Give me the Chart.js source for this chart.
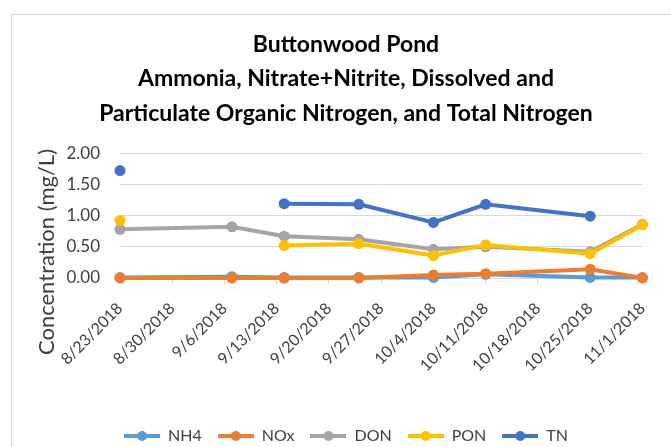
<!DOCTYPE html>
<html>
<head>
<meta charset="utf-8">
<script src="https://cdn.jsdelivr.net/npm/chart.js@4.4.0/dist/chart.umd.min.js"></script>
<style>
  html, body { margin: 0; padding: 0; background: #fff; overflow: hidden; }
  #wrap { position: relative; width: 671px; height: 447px; overflow: hidden; }
  #frame { position: absolute; left: 11px; top: 14px; right: -5px; bottom: -5px; border: 1px solid #D9D9D9; pointer-events: none; }
</style>
</head>
<body>
<div id="wrap">
  <canvas id="chart" width="671" height="458"></canvas>
  <div id="frame"></div>
</div>
<script>
// sampling dates and values (mg/L)
const sampleDates = ["8/23/2018", "9/7/2018", "9/14/2018", "9/24/2018", "10/4/2018", "10/11/2018", "10/25/2018", "11/1/2018"];
const nh4 = [0.01, 0.02, 0.01, 0.01, 0.01, 0.06, 0.01, 0.01];
const nox = [0.00, 0.00, 0.00, 0.00, 0.05, 0.07, 0.14, 0.00];
const don = [0.78, 0.82, 0.67, 0.62, 0.46, 0.50, 0.42, 0.86];
const pon = [0.92, null, 0.52, 0.55, 0.36, 0.53, 0.39, 0.85];
const tn  = [1.72, null, 1.19, 1.18, 0.89, 1.18, 0.99, null];

const seriesNames = ["NH4", "NOx", "DON", "PON", "TN"];
const seriesColors = ["#5B9BD5", "#ED7D31", "#A5A5A5", "#FFC000", "#4472C4"];
const seriesValues = [nh4, nox, don, pon, tn];

const yTicks = [0, 0.5, 1.0, 1.5, 2.0];
const firstTick = "8/23/2018";
const lastTick = "11/1/2018";

const titleLines = [
  "Buttonwood Pond",
  "Ammonia, Nitrate+Nitrite, Dissolved and",
  "Particulate Organic Nitrogen, and Total Nitrogen"
];
const yTitle = "Concentration (mg/L)";

function toUTC(s) {
  const [m, d, y] = s.split("/").map(Number);
  return Date.UTC(y, m - 1, d);
}
const DAY = 86400000;
const base = toUTC(firstTick);
const dayOf = s => (toUTC(s) - base) / DAY;
function fmtDay(v) {
  const dt = new Date(base + v * DAY);
  return (dt.getUTCMonth() + 1) + "/" + dt.getUTCDate() + "/" + dt.getUTCFullYear();
}

function legendIcon(color) {
  const c = document.createElement("canvas");
  c.width = 36; c.height = 12;
  const g = c.getContext("2d");
  g.strokeStyle = color; g.lineWidth = 4;
  g.beginPath(); g.moveTo(0, 6); g.lineTo(36, 6); g.stroke();
  g.fillStyle = color;
  g.beginPath(); g.arc(18, 6, 5, 0, Math.PI * 2); g.fill();
  return c;
}

const datasets = seriesNames.map((name, i) => ({
  label: name,
  data: seriesValues[i].map((v, j) => ({ x: dayOf(sampleDates[j]), y: v })),
  borderColor: seriesColors[i],
  backgroundColor: seriesColors[i],
  borderWidth: 4,
  pointRadius: 5.5,
  pointHoverRadius: 5.5,
  pointBorderWidth: 0,
  spanGaps: false,
  clip: false,
  order: seriesNames.length - i
}));

// y-axis title centred like the Excel original
const yTitlePlugin = {
  id: "yTitle",
  afterDraw(chart) {
    const ctx = chart.ctx;
    ctx.save();
    ctx.translate(47, 252);
    ctx.rotate(-Math.PI / 2);
    ctx.font = "22px Lato";
    ctx.fillStyle = "#404040";
    ctx.textAlign = "center";
    ctx.textBaseline = "middle";
    ctx.fillText(yTitle, 0, 0);
    ctx.restore();
  }
};

new Chart(document.getElementById("chart"), {
  type: "line",
  data: { datasets },
  plugins: [yTitlePlugin],
  options: {
    responsive: false,
    animation: false,
    layout: { padding: { left: 44, right: 23, top: 0, bottom: 4 } },
    plugins: {
      title: {
        display: true,
        text: titleLines,
        color: "#000",
        font: { family: "Lato", size: 23, weight: "bold", lineHeight: 1.48 },
        padding: { top: 28, bottom: 23 }
      },
      legend: {
        position: "bottom",
        labels: {
          usePointStyle: true,
          pointStyleWidth: 36,
          boxHeight: 12,
          padding: 16,
          color: "#404040",
          font: { family: "Lato", size: 16 },
          generateLabels: chart => chart.data.datasets.map((ds, i) => ({
            text: ds.label,
            pointStyle: legendIcon(ds.borderColor),
            fillStyle: ds.borderColor,
            strokeStyle: ds.borderColor,
            lineWidth: 0,
            fontColor: "#404040",
            datasetIndex: i,
            hidden: false
          }))
        }
      },
      tooltip: { enabled: false }
    },
    scales: {
      x: {
        type: "linear",
        min: dayOf(firstTick),
        max: dayOf(lastTick),
        grid: { drawOnChartArea: false, drawTicks: true, tickLength: 6, color: "#D9D9D9" },
        border: { color: "#D9D9D9" },
        afterBuildTicks: axis => {
          axis.ticks = [];
          for (let d = axis.min; d <= axis.max; d += 7) axis.ticks.push({ value: d });
        },
        afterFit: axis => { axis.height = 134; },
        ticks: {
          autoSkip: false,
          maxRotation: 45,
          minRotation: 45,
          padding: 15,
          color: "#404040",
          font: { family: "Lato", size: 16 },
          callback: v => fmtDay(v)
        }
      },
      y: {
        min: 0,
        max: 2,
        afterBuildTicks: axis => { axis.ticks = yTicks.map(v => ({ value: v })); },
        afterFit: axis => { axis.width = 76; },
        grid: { color: "#D9D9D9", drawTicks: false },
        border: { display: false },
        ticks: {
          padding: 20,
          color: "#404040",
          font: { family: "Lato", size: 17 },
          callback: v => v.toFixed(2)
        }
      }
    }
  }
});
</script>
</body>
</html>
